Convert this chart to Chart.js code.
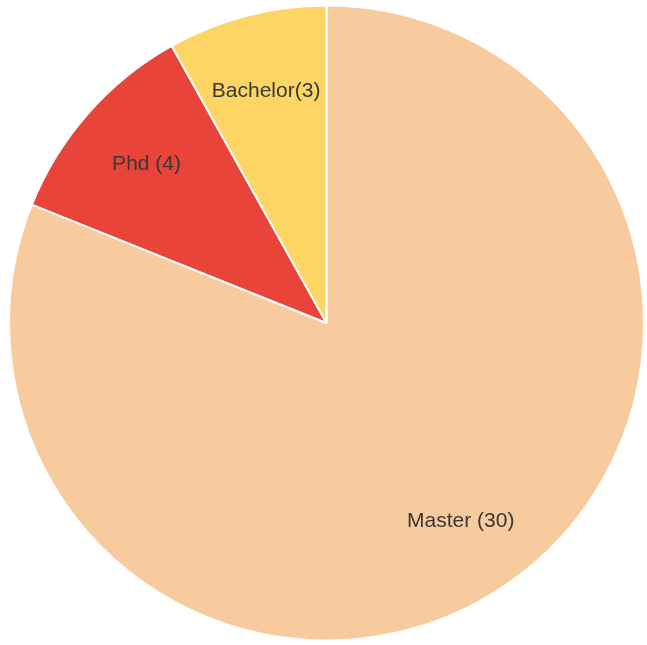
<!DOCTYPE html>
<html>
<head>
<meta charset="utf-8">
<script src="https://cdn.jsdelivr.net/npm/chart.js@4.4.0/dist/chart.umd.min.js"></script>
<style>
  html, body { margin: 0; padding: 0; background: #fff; }
  #wrap { width: 647px; height: 645px; }
</style>
</head>
<body>
<div id="wrap"><canvas id="pie"></canvas></div>
<script>
// data
const categories = ['Master', 'Phd', 'Bachelor'];
const counts = [30, 4, 3];
const sliceColors = ['#F8CB9E', '#E8443A', '#FDD564'];
const labelText = ['Master (30)', 'Phd (4)', 'Bachelor(3)'];

// draws the labels inside each slice, about 3/4 of the way out
const sliceLabels = {
  id: 'sliceLabels',
  afterDatasetsDraw(chart) {
    const ctx = chart.ctx;
    const meta = chart.getDatasetMeta(0);
    ctx.save();
    ctx.font = '21px "Liberation Sans", Arial, sans-serif';
    ctx.fillStyle = '#383838';
    ctx.textAlign = 'center';
    ctx.textBaseline = 'middle';
    meta.data.forEach((arc, i) => {
      const p = arc.getProps(['x', 'y', 'startAngle', 'endAngle', 'outerRadius'], true);
      const mid = (p.startAngle + p.endAngle) / 2;
      const r = p.outerRadius * 0.755;
      ctx.fillText(labelText[i], p.x + Math.cos(mid) * r, p.y + Math.sin(mid) * r);
    });
    ctx.restore();
  }
};

new Chart(document.getElementById('pie'), {
  type: 'pie',
  data: {
    labels: categories,
    datasets: [{
      data: counts,
      backgroundColor: sliceColors,
      borderColor: '#fff',
      borderWidth: 2
    }]
  },
  options: {
    responsive: true,
    maintainAspectRatio: false,
    animation: false,
    layout: { padding: { left: 8, right: 2, top: 4, bottom: 3 } },
    plugins: {
      legend: { display: false },
      tooltip: { enabled: false }
    }
  },
  plugins: [sliceLabels]
});
</script>
</body>
</html>
